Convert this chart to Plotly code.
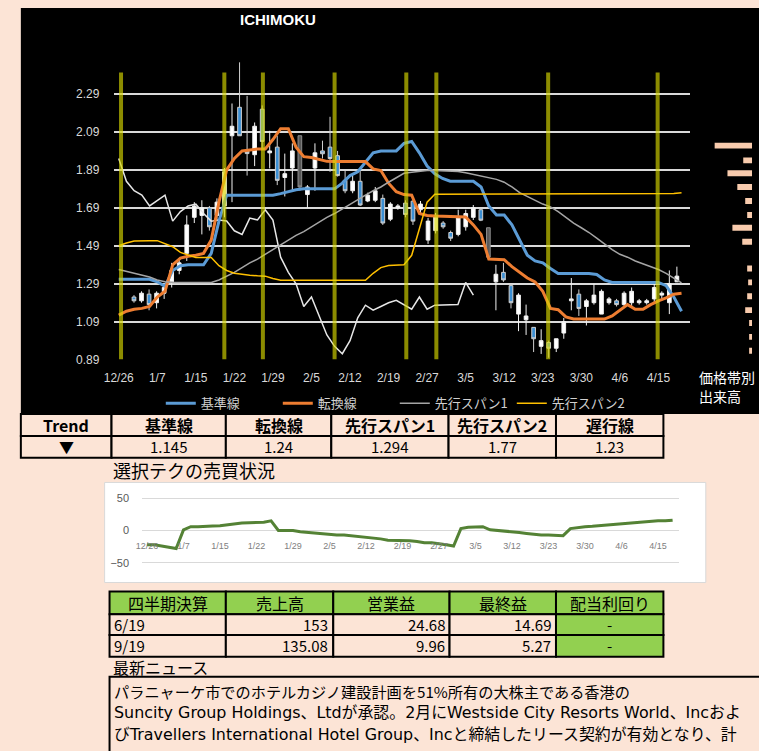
import plotly.graph_objects as go

W, H = 759, 751
def X(px): return min(max(px / W, 0.0), 1.0)
def Y(py): return min(max(1 - py / H, 0.0), 1.0)

BG = "#fce4d6"
CJK = "Noto Sans CJK JP"
LATIN_WIDE = "DejaVu Sans, Noto Sans CJK JP"

# ---------------- data ----------------
date_labels = ["12/26", "1/7", "1/15", "1/22", "1/29", "2/5", "2/12", "2/19",
               "2/27", "3/5", "3/12", "3/23", "3/30", "4/6", "4/15"]
label_step = 5

kijun = [1.313, 1.313, 1.313, 1.313, 1.313, 1.30, 1.276, 1.36, 1.385, 1.39,
         1.39, 1.39, 1.45, 1.62, 1.757, 1.757, 1.757, 1.757, 1.757, 1.757,
         1.757, 1.765, 1.775, 1.785, 1.79, 1.79, 1.79, 1.79, 1.79, 1.82,
         1.86, 1.88, 1.93, 1.98, 1.99, 1.99, 1.99, 2.03, 2.04, 1.98,
         1.91, 1.87, 1.845, 1.83, 1.83, 1.83, 1.83, 1.80, 1.70, 1.652,
         1.652, 1.60, 1.52, 1.44, 1.41, 1.40, 1.37, 1.344, 1.344, 1.344,
         1.344, 1.344, 1.339, 1.31, 1.297, 1.297, 1.297, 1.297, 1.297, 1.297,
         1.297, 1.28, 1.22, 1.145]
tenkan = [1.125, 1.145, 1.155, 1.16, 1.17, 1.22, 1.25, 1.39, 1.425, 1.435,
          1.44, 1.45, 1.52, 1.72, 1.89, 1.95, 1.99, 1.995, 2.0, 2.0,
          2.05, 2.107, 2.107, 2.01, 1.96, 1.955, 1.945, 1.935, 1.934, 1.934,
          1.934, 1.934, 1.934, 1.895, 1.887, 1.82, 1.775, 1.76, 1.757, 1.66,
          1.65, 1.647, 1.645, 1.644, 1.643, 1.642, 1.60, 1.55, 1.42, 1.417,
          1.417, 1.38, 1.35, 1.32, 1.30, 1.25, 1.16, 1.153, 1.115, 1.104,
          1.104, 1.104, 1.104, 1.104, 1.12, 1.15, 1.18, 1.155, 1.155, 1.18,
          1.20, 1.215, 1.235, 1.24]
span1 = [1.365, 1.355, 1.345, 1.335, 1.325, 1.31, 1.30, 1.297, 1.297, 1.297,
         1.297, 1.297, 1.297, 1.31, 1.33, 1.35, 1.375, 1.40, 1.42, 1.445,
         1.47, 1.495, 1.52, 1.545, 1.565, 1.59, 1.615, 1.64, 1.66, 1.685,
         1.71, 1.735, 1.757, 1.78, 1.80, 1.825, 1.85, 1.872, 1.878, 1.883,
         1.887, 1.887, 1.886, 1.884, 1.882, 1.875, 1.866, 1.858, 1.85, 1.84,
         1.825, 1.80, 1.77, 1.75, 1.73, 1.71, 1.695, 1.67, 1.64, 1.61,
         1.585, 1.56, 1.53, 1.50, 1.47, 1.445, 1.43, 1.41, 1.395, 1.38,
         1.365, 1.345, 1.32, 1.294]
span2 = [1.49, 1.505, 1.515, 1.517, 1.517, 1.517, 1.50, 1.485, 1.455, 1.44,
         1.428, 1.428, 1.428, 1.385, 1.36, 1.345, 1.338, 1.335, 1.332, 1.33,
         1.318, 1.308, 1.308, 1.308, 1.308, 1.308, 1.308, 1.308, 1.308, 1.308,
         1.308, 1.308, 1.308, 1.345, 1.375, 1.386, 1.388, 1.39, 1.44, 1.58,
         1.72, 1.762, 1.762, 1.762, 1.762, 1.762, 1.762, 1.762, 1.762, 1.762,
         1.762, 1.762, 1.762, 1.762, 1.762, 1.762, 1.762, 1.762, 1.762, 1.762,
         1.762, 1.762, 1.762, 1.762, 1.762, 1.762, 1.762, 1.762, 1.762, 1.762,
         1.762, 1.762, 1.765, 1.77]
chikou = [1.95, 1.83, 1.78, 1.757, 1.70, 1.73, 1.757, 1.62, 1.67, 1.70,
          1.71, 1.66, 1.62, 1.626, 1.621, 1.569, 1.55, 1.636, 1.626, 1.68,
          1.626, 1.43, 1.35, 1.29, 1.17, 1.22, 1.115, 1.02, 0.96, 0.921,
          0.99, 1.11, 1.177, 1.151, 1.17, 1.19, 1.203, 1.18, 1.156, 1.22,
          1.156, 1.177, 1.177, 1.177, 1.18, 1.297, 1.23]

# candles: first candle sits at day 1.98 of the axis, spaced 0.978 day apart
candle_x0, candle_step = 1.98, 0.978
c_open = [1.22, 1.20, 1.235, 1.19, 1.24, 1.30, 1.36, 1.45, 1.64, 1.65,
          1.69, 1.65, 1.70, 2.07, 2.22, 1.99, 1.97, 2.21, 1.98, 2.01,
          1.85, 1.90, 2.07, 1.76, 1.90, 1.99, 2.01, 1.965, 1.835, 1.78,
          1.83, 1.726, 1.73, 1.74, 1.63, 1.69, 1.715, 1.725, 1.68, 1.52,
          1.57, 1.61, 1.56, 1.55, 1.59, 1.64, 1.68, 1.585, 1.30, 1.35,
          1.28, 1.13, 1.10, 1.06, 0.96, 0.98, 0.95, 1.03, 1.20, 1.235,
          1.17, 1.19, 1.13, 1.19, 1.20, 1.18, 1.19, 1.19, 1.19, 1.21,
          1.23, 1.19, 1.30]
c_high = [1.23, 1.25, 1.26, 1.25, 1.28, 1.40, 1.42, 1.65, 1.72, 1.73,
          1.70, 1.74, 1.90, 2.24, 2.457, 2.28, 2.14, 2.23, 2.096, 2.07,
          1.976, 2.03, 2.07, 1.81, 2.03, 2.044, 2.17, 1.99, 1.887, 1.86,
          1.887, 1.77, 1.80, 1.76, 1.72, 1.71, 1.73, 1.73, 1.726, 1.637,
          1.663, 1.62, 1.57, 1.68, 1.68, 1.705, 1.69, 1.585, 1.39, 1.40,
          1.29, 1.24, 1.18, 1.06, 1.05, 0.99, 1.00, 1.11, 1.32, 1.26,
          1.21, 1.29, 1.26, 1.22, 1.21, 1.25, 1.27, 1.21, 1.21, 1.29,
          1.25, 1.36, 1.38]
c_low = [1.19, 1.19, 1.15, 1.16, 1.21, 1.27, 1.34, 1.41, 1.61, 1.55,
         1.57, 1.62, 1.64, 1.72, 2.07, 1.86, 1.91, 2.00, 1.898, 1.81,
         1.75, 1.78, 1.78, 1.69, 1.78, 1.95, 1.88, 1.855, 1.767, 1.767,
         1.70, 1.72, 1.72, 1.60, 1.62, 1.68, 1.64, 1.60, 1.652, 1.50,
         1.555, 1.58, 1.515, 1.54, 1.57, 1.626, 1.62, 1.43, 1.15, 1.30,
         1.16, 1.04, 1.02, 0.93, 0.92, 0.90, 0.93, 1.00, 1.15, 1.12,
         1.07, 1.18, 1.13, 1.18, 1.17, 1.17, 1.17, 1.18, 1.18, 1.19,
         1.20, 1.13, 1.30]
c_close = [1.20, 1.24, 1.18, 1.24, 1.27, 1.36, 1.40, 1.60, 1.70, 1.69,
           1.59, 1.72, 1.88, 2.12, 2.07, 1.976, 2.12, 2.04, 1.99, 1.835,
           1.87, 1.99, 1.80, 1.80, 1.98, 1.975, 1.95, 1.86, 1.78, 1.83,
           1.705, 1.757, 1.78, 1.61, 1.71, 1.70, 1.655, 1.62, 1.71, 1.62,
           1.65, 1.59, 1.53, 1.64, 1.66, 1.69, 1.625, 1.43, 1.34, 1.31,
           1.19, 1.23, 1.12, 1.00, 0.99, 0.95, 1.00, 1.09, 1.21, 1.16,
           1.20, 1.23, 1.25, 1.21, 1.18, 1.24, 1.25, 1.20, 1.20, 1.27,
           1.24, 1.29, 1.33]
gray_candles = [22, 47]   # candles drawn with a dark grey body

signal_days = [0.3, 13.7, 18.7, 28.0, 37.3, 41.2, 55.7, 69.9]

vp_price = [0.937, 1.01, 1.083, 1.151, 1.224, 1.297, 1.37, 1.44, 1.511, 1.585,
            1.652, 1.726, 1.80, 1.872, 1.94, 2.018]
vp_volume = [3, 3, 3, 7, 5, 4, 5, 0, 10, 20, 5, 7, 15, 25, 9, 38]

score = [-22, -22, -24, -26, -28, 1, 6, 6, 6, 7,
         7.5, 9, 10, 11.5, 12, 12, 13, 15, 0, 0,
         0, -2, -3, -4, -6, -7, -7, -7, -8, -9.5,
         -10, -11, -13, -15, -15, -15, -16, -17, -19, -19,
         -20, -22, -24, 3, 5, 6, 6, 1, 0, 0,
         -2, -3, -4.5, -6, -7, -7, -7, -8, 3, 5,
         6, 6.5, 7.5, 8.5, 9.5, 10.5, 12, 13, 13, 14,
         15, 15, 16]

trend_mark = "▼"
top_headers = ["Trend", "基準線", "転換線", "先行スパン1", "先行スパン2", "遅行線"]

quarter_headers = ["四半期決算", "売上高", "営業益", "最終益", "配当利回り"]
quarter_periods = ["6/19", "9/19"]
sales = [153, 135.08]
op_income = [24.68, 9.96]
net_income = [14.69, 5.27]
div_yield = ["-", "-"]

news_lines = [
    "パラニャーケ市でのホテルカジノ建設計画を51%所有の大株主である香港の",
    "Suncity Group Holdings、Ltdが承認。2月にWestside City Resorts World、Incおよ",
    "びTravellers International Hotel Group、Incと締結したリース契約が有効となり、計",
]

# ---------------- figure ----------------
fig = go.Figure()

cx = [candle_x0 + candle_step * k for k in range(len(c_open))]
normal = [k for k in range(len(c_open)) if k not in gray_candles]
def pick(seq, idx): return [seq[k] for k in idx]

fig.add_trace(go.Candlestick(
    x=pick(cx, normal), open=pick(c_open, normal), high=pick(c_high, normal),
    low=pick(c_low, normal), close=pick(c_close, normal),
    increasing=dict(line=dict(color="#f2f2f2", width=1), fillcolor="#ffffff"),
    decreasing=dict(line=dict(color="#d0d0d0", width=1), fillcolor="#3b8fd4"),
    whiskerwidth=0, showlegend=False, hoverinfo="skip", xaxis="x", yaxis="y"))
fig.add_trace(go.Candlestick(
    x=pick(cx, gray_candles), open=pick(c_open, gray_candles), high=pick(c_high, gray_candles),
    low=pick(c_low, gray_candles), close=pick(c_close, gray_candles),
    increasing=dict(line=dict(color="#8c8c8c", width=1), fillcolor="#595959"),
    decreasing=dict(line=dict(color="#8c8c8c", width=1), fillcolor="#595959"),
    whiskerwidth=0, showlegend=False, hoverinfo="skip", xaxis="x", yaxis="y"))

fig.add_trace(go.Scatter(x=list(range(len(chikou))), y=chikou, mode="lines",
                         line=dict(color="#e6e6e6", width=1.5), showlegend=False))
fig.add_trace(go.Scatter(x=list(range(len(kijun))), y=kijun, mode="lines", name="基準線",
                         line=dict(color="#5b9bd5", width=3)))
fig.add_trace(go.Scatter(x=list(range(len(tenkan))), y=tenkan, mode="lines", name="転換線",
                         line=dict(color="#ed7d31", width=3)))
fig.add_trace(go.Scatter(x=list(range(len(span1))), y=span1, mode="lines", name="先行スパン1",
                         line=dict(color="#a5a5a5", width=1.5)))
fig.add_trace(go.Scatter(x=list(range(len(span2))), y=span2, mode="lines", name="先行スパン2",
                         line=dict(color="#ffc000", width=1.5)))

# volume by price
fig.add_trace(go.Bar(x=vp_volume, y=vp_price, orientation="h", width=0.031,
                     marker=dict(color="#f8cbad", line=dict(width=0)),
                     showlegend=False, xaxis="x2", yaxis="y2"))

# signal score chart
fig.add_trace(go.Scatter(x=list(range(len(score))), y=score, mode="lines",
                         line=dict(color="#548235", width=3), showlegend=False,
                         xaxis="x3", yaxis="y3"))

ymin, ymax = 0.89, 2.49
ytick = [0.89, 1.09, 1.29, 1.49, 1.69, 1.89, 2.09, 2.29]

shapes = []
annotations = []

def text(px, py, s, size, color="#000000", anchor="center", family=CJK):
    annotations.append(dict(xref="paper", yref="paper", x=X(px), y=Y(py), text=s,
                            xanchor=anchor, yanchor="middle", showarrow=False,
                            borderpad=0, font=dict(family=family, size=size, color=color)))

def rect(x0, x1, y0, y1, fill, lw=2, lc="#000000"):
    shapes.append(dict(type="rect", xref="paper", yref="paper",
                       x0=x0 / W, x1=x1 / W, y0=1 - y1 / H, y1=1 - y0 / H, fillcolor=fill,
                       line=dict(color=lc, width=lw), layer="below"))

# black panel
rect(10, 775, 8, 418, "#000000", lw=0)
# small chart box
rect(95, 705, 487, 588, "#ffffff", lw=1, lc="#d9d9d9")

# signal vertical lines
for d in signal_days:
    shapes.append(dict(type="line", xref="x", yref="y", x0=d, x1=d, y0=ymin, y1=2.404,
                       line=dict(color="rgba(215,215,0,0.65)", width=4), layer="above"))

# top table
tcols = [10, 102, 218, 325, 444, 553, 662]
trows = [418, 440, 462]
top_values = [trend_mark] + [f"{v[-1]:g}" for v in (kijun, tenkan, span1, span2, chikou)]
for j in range(len(top_headers)):
    for r in range(2):
        rect(tcols[j], tcols[j + 1], trows[r], trows[r + 1], BG)
    cxp = (tcols[j] + tcols[j + 1]) / 2
    text(cxp, (trows[0] + trows[1]) / 2, f"<b>{top_headers[j]}</b>", 16)
    text(cxp, (trows[1] + trows[2]) / 2, top_values[j], 15)

# quarterly table
qcols = [100, 218, 327, 445, 553, 662]
qrows = [597, 620, 641, 663]
green = "#92d050"
rows = [[quarter_periods[i], f"{sales[i]:g}", f"{op_income[i]:g}", f"{net_income[i]:g}", div_yield[i]]
        for i in range(len(quarter_periods))]
last = len(quarter_headers) - 1
for j in range(len(quarter_headers)):
    rect(qcols[j], qcols[j + 1], qrows[0], qrows[1], green)
    text((qcols[j] + qcols[j + 1]) / 2, (qrows[0] + qrows[1]) / 2, quarter_headers[j], 16)
    for i, row in enumerate(rows):
        rect(qcols[j], qcols[j + 1], qrows[i + 1], qrows[i + 2], green if j == last else BG)
        ym = (qrows[i + 1] + qrows[i + 2]) / 2
        if j == 0:
            text(qcols[j] + 4, ym, row[j], 15, anchor="left")
        elif j == last:
            text((qcols[j] + qcols[j + 1]) / 2, ym, row[j], 15)
        else:
            text(qcols[j + 1] - 4, ym, row[j], 15, anchor="right")

# news box
rect(100, 775, 683, 770, BG)
news_styles = [(15.2, CJK), (15.9, LATIN_WIDE), (15.9, LATIN_WIDE)]
for k, line in enumerate(news_lines):
    size, fam = news_styles[k]
    text(104, 697 + 22 * k, line, size, anchor="left", family=fam)

# titles and labels
text(271, 20, "<b>ICHIMOKU</b>", 15, color="#ffffff", family="Liberation Sans")
text(697, 381, "価格帯別", 14, color="#ffffff", anchor="left")
text(697, 400, "出来高", 14, color="#ffffff", anchor="left")
text(102, 474, "選択テクの売買状況", 18, anchor="left")
text(102, 673, "最新ニュース", 16, anchor="left")

fig.update_layout(
    width=W, height=H, autosize=False,
    margin=dict(l=0, r=0, t=0, b=0),
    paper_bgcolor=BG, plot_bgcolor="rgba(0,0,0,0)",
    font=dict(family=CJK),
    shapes=shapes, annotations=annotations,
    showlegend=True,
    legend=dict(orientation="h", x=X(152), y=Y(407), xanchor="left", yanchor="middle",
                font=dict(family=CJK, size=13, color="#d0d0d0"), bgcolor="rgba(0,0,0,0)",
                itemwidth=30, entrywidth=72, entrywidthmode="pixels"),
    xaxis=dict(domain=[X(105), X(689)], range=[-0.55, 74.1], anchor="y",
               tickvals=[i * label_step for i in range(len(date_labels))], ticktext=date_labels,
               showgrid=False, zeroline=False, showline=False, ticks="",
               tickfont=dict(family="Liberation Sans", size=12, color="#d9d9d9"),
               ticklabelstandoff=9, rangeslider=dict(visible=False)),
    yaxis=dict(domain=[Y(363), Y(56.6)], range=[ymin, ymax], anchor="x",
               tickvals=ytick, ticktext=[f"{v:.2f}" for v in ytick],
               showgrid=True, gridcolor="#d9d9d9", gridwidth=1.5, zeroline=False, showline=False,
               ticks="", tickfont=dict(family="Liberation Sans", size=12, color="#d9d9d9"),
               ticklabelstandoff=14),
    xaxis2=dict(domain=[X(700), X(752)], range=[52, 0], anchor="y2", visible=False),
    yaxis2=dict(domain=[Y(363), Y(56.6)], range=[ymin, ymax], anchor="x2", visible=False),
    xaxis3=dict(domain=[X(133), X(678)], range=[-0.67, 72.9], anchor="free", position=Y(535.5),
                tickvals=[i * label_step for i in range(len(date_labels))], ticktext=date_labels,
                showgrid=False, zeroline=False, showline=False, ticks="",
                tickfont=dict(family="Liberation Sans", size=9, color="#808080"),
                ticklabelstandoff=8),
    yaxis3=dict(domain=[Y(574.5), Y(496.5)], range=[-60, 60], anchor="x3",
                tickvals=[-50, 0, 50], showgrid=True, gridcolor="#d9d9d9", gridwidth=1,
                zeroline=False, showline=False, ticks="",
                tickfont=dict(family="Liberation Sans", size=11, color="#595959"),
                ticklabelstandoff=12),
)

fig.write_html("out.html", config={"displayModeBar": False},
               post_script="document.body.style.margin='0';"
                           "document.documentElement.style.overflow='hidden';"
                           "document.body.style.backgroundColor='%s';" % BG)
